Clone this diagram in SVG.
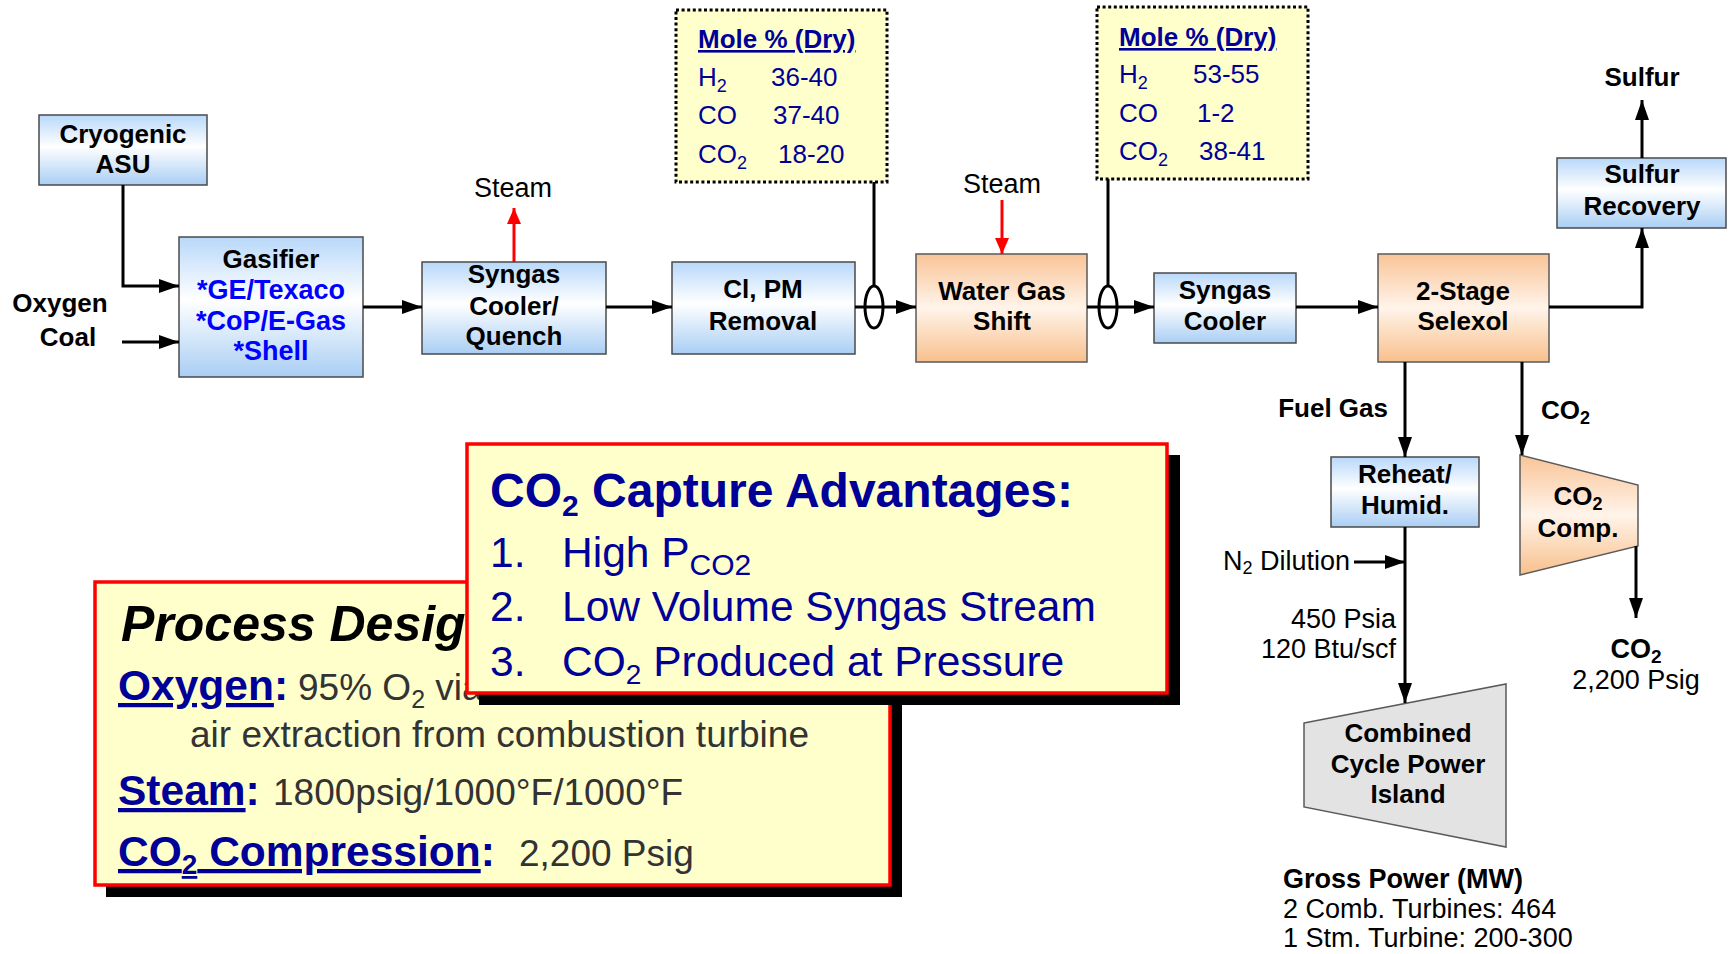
<svg xmlns="http://www.w3.org/2000/svg" width="1732" height="954" viewBox="0 0 1732 954">
  <defs>
    <linearGradient id="gBlue" x1="0" y1="0" x2="0" y2="1">
      <stop offset="0" stop-color="#B8D8FA"/>
      <stop offset="0.45" stop-color="#FFFFFF"/>
      <stop offset="1" stop-color="#A9CEF4"/>
    </linearGradient>
    <linearGradient id="gOrange" x1="0" y1="0" x2="0" y2="1">
      <stop offset="0" stop-color="#F9C497"/>
      <stop offset="0.5" stop-color="#FFF4EA"/>
      <stop offset="1" stop-color="#F8C08C"/>
    </linearGradient>
    <marker id="ah" markerUnits="userSpaceOnUse" markerWidth="22" markerHeight="16" refX="20" refY="7" orient="auto">
      <path d="M0,0 L20,7 L0,14 z" fill="#000"/>
    </marker>
    <marker id="ahRed" markerUnits="userSpaceOnUse" markerWidth="18" markerHeight="16" refX="16" refY="7" orient="auto">
      <path d="M0,0 L16,7 L0,14 z" fill="#FF0000"/>
    </marker>
    <style>
      .box { fill: url(#gBlue); stroke: #4a4a4a; stroke-width: 1.5; }
      .obox { fill: url(#gOrange); stroke: #5a5a5a; stroke-width: 1.5; }
      .lbl { font-family: "Liberation Sans", Arial, sans-serif; font-weight: bold; font-size: 26px; fill: #000; text-anchor: middle; }
      .gas { font-family: "Liberation Sans", Arial, sans-serif; font-weight: bold; font-size: 27px; fill: #0000FF; text-anchor: middle; }
      .txt { font-family: "Liberation Sans", Arial, sans-serif; font-size: 27px; fill: #000; }
      .sm { font-family: "Liberation Sans", Arial, sans-serif; font-size: 27px; fill: #000; }
      .smb { font-family: "Liberation Sans", Arial, sans-serif; font-size: 27px; font-weight: bold; fill: #000; }
      .mole { fill: #FFFFCC; stroke: #000; stroke-width: 3; stroke-dasharray: 3 2.6; }
      .mt { font-family: "Liberation Sans", Arial, sans-serif; font-size: 26px; fill: #000099; }
      .wire { fill: none; stroke: #000; stroke-width: 3; }
      .red { fill: none; stroke: #FF0000; stroke-width: 3; }
      .callout { fill: #FFFFCC; stroke: #FF0000; stroke-width: 3.5; }
      .navy { fill: #000099; }
      .basis { font-family: "Liberation Sans", Arial, sans-serif; font-size: 37px; fill: #333333; }
      .key { font-family: "Liberation Sans", Arial, sans-serif; font-size: 42.5px; font-weight: bold; fill: #000099; }
      .adv { font-family: "Liberation Sans", Arial, sans-serif; font-size: 42.5px; fill: #000099; }
    </style>
  </defs>

  <rect width="1732" height="954" fill="#FFFFFF"/>

  <!-- process units -->
  <g id="asu">
    <rect class="box" x="39" y="115" width="168" height="70"/>
    <text class="lbl" x="123" y="143">Cryogenic</text>
    <text class="lbl" x="123" y="173">ASU</text>
  </g>
  <g id="gasifier">
    <rect class="box" x="179" y="237" width="184" height="140"/>
    <text class="lbl" x="271" y="268">Gasifier</text>
    <text class="gas" x="271" y="299">*GE/Texaco</text>
    <text class="gas" x="271" y="330">*CoP/E-Gas</text>
    <text class="gas" x="271" y="360">*Shell</text>
  </g>
  <g id="feeds">
    <text class="lbl" x="60" y="312">Oxygen</text>
    <text class="lbl" x="68" y="346">Coal</text>
  </g>
  <g id="quench">
    <rect class="box" x="422" y="262" width="184" height="92"/>
    <text class="lbl" x="514" y="283">Syngas</text>
    <text class="lbl" x="514" y="315">Cooler/</text>
    <text class="lbl" x="514" y="345">Quench</text>
  </g>
  <g id="steam-out">
    <text class="txt" x="513" y="197" style="text-anchor:middle">Steam</text>
  </g>
  <g id="clpm">
    <rect class="box" x="672" y="262" width="183" height="92"/>
    <text class="lbl" x="763" y="298">Cl, PM</text>
    <text class="lbl" x="763" y="330">Removal</text>
  </g>
  <g id="comp1">
    <rect class="mole" x="676" y="10" width="211" height="172"/>
    <text class="mt" x="698" y="48" font-weight="bold" text-decoration="underline">Mole % (Dry)</text>
    <text class="mt" x="698" y="86">H<tspan font-size="18" dy="6">2</tspan></text>
    <text class="mt" x="771" y="86">36-40</text>
    <text class="mt" x="698" y="124">CO</text>
    <text class="mt" x="773" y="124">37-40</text>
    <text class="mt" x="698" y="163">CO<tspan font-size="18" dy="6">2</tspan></text>
    <text class="mt" x="778" y="163">18-20</text>
  </g>
  <g id="wgs">
    <rect class="obox" x="916" y="254" width="171" height="108"/>
    <text class="lbl" x="1002" y="300">Water Gas</text>
    <text class="lbl" x="1002" y="330">Shift</text>
  </g>
  <g id="steam-in">
    <text class="txt" x="1002" y="193" style="text-anchor:middle">Steam</text>
  </g>
  <g id="comp2">
    <rect class="mole" x="1097" y="7" width="211" height="172"/>
    <text class="mt" x="1119" y="46" font-weight="bold" text-decoration="underline">Mole % (Dry)</text>
    <text class="mt" x="1119" y="83">H<tspan font-size="18" dy="6">2</tspan></text>
    <text class="mt" x="1193" y="83">53-55</text>
    <text class="mt" x="1119" y="122">CO</text>
    <text class="mt" x="1197" y="122">1-2</text>
    <text class="mt" x="1119" y="160">CO<tspan font-size="18" dy="6">2</tspan></text>
    <text class="mt" x="1199" y="160">38-41</text>
  </g>
  <g id="cooler">
    <rect class="box" x="1154" y="273" width="142" height="70"/>
    <text class="lbl" x="1225" y="299">Syngas</text>
    <text class="lbl" x="1225" y="330">Cooler</text>
  </g>
  <g id="selexol">
    <rect class="obox" x="1378" y="254" width="171" height="108"/>
    <text class="lbl" x="1463" y="300">2-Stage</text>
    <text class="lbl" x="1463" y="330">Selexol</text>
  </g>
  <g id="sulfur-recovery">
    <rect class="box" x="1557" y="158" width="169" height="70"/>
    <text class="lbl" x="1642" y="183">Sulfur</text>
    <text class="lbl" x="1642" y="215">Recovery</text>
  </g>
  <g id="sulfur">
    <text class="lbl" x="1642" y="86">Sulfur</text>
  </g>
  <g id="fuel-gas">
    <text class="lbl" x="1388" y="417" style="text-anchor:end">Fuel Gas</text>
  </g>
  <g id="co2-stream">
    <text class="lbl" x="1541" y="419" style="text-anchor:start">CO<tspan font-size="18" dy="5">2</tspan></text>
  </g>
  <g id="reheat">
    <rect class="box" x="1331" y="457" width="148" height="70"/>
    <text class="lbl" x="1405" y="483">Reheat/</text>
    <text class="lbl" x="1405" y="514">Humid.</text>
  </g>
  <g id="co2-comp">
    <polygon class="obox" points="1520,455 1638,485 1638,546 1520,575"/>
    <text class="lbl" x="1578" y="505">CO<tspan font-size="18" dy="5">2</tspan></text>
    <text class="lbl" x="1578" y="537">Comp.</text>
  </g>
  <g id="co2-product">
    <text class="smb" x="1636" y="658" style="text-anchor:middle">CO<tspan font-size="19" dy="5">2</tspan></text>
    <text class="sm" x="1636" y="689" style="text-anchor:middle">2,200 Psig</text>
  </g>
  <g id="n2">
    <text class="sm" x="1223" y="570" font-size="26">N<tspan font-size="18" dy="4">2</tspan><tspan dy="-4"> Dilution</tspan></text>
  </g>
  <g id="fuel-conditions">
    <text class="sm" x="1396" y="628" style="text-anchor:end">450 Psia</text>
    <text class="sm" x="1396" y="658" style="text-anchor:end">120 Btu/scf</text>
  </g>
  <g id="power-island">
    <polygon points="1304,723 1506,684 1506,847 1304,807" fill="#E3E3E3" stroke="#5a5a5a" stroke-width="1.5"/>
    <text class="lbl" x="1408" y="742">Combined</text>
    <text class="lbl" x="1408" y="773">Cycle Power</text>
    <text class="lbl" x="1408" y="803">Island</text>
  </g>
  <g id="gross-power">
    <text class="smb" x="1283" y="888">Gross Power (MW)</text>
    <text class="sm" x="1283" y="918">2 Comb. Turbines: 464</text>
    <text class="sm" x="1283" y="947">1 Stm. Turbine: 200-300</text>
  </g>

  <!-- flow lines -->
  <g id="connectors">
    <path class="wire" d="M123,185 V286 H179" marker-end="url(#ah)"/>
    <path class="wire" d="M122,342 H179" marker-end="url(#ah)"/>
    <path class="wire" d="M363,307 H422" marker-end="url(#ah)"/>
    <path class="wire" d="M606,307 H672" marker-end="url(#ah)"/>
    <path class="wire" d="M855,307 H916" marker-end="url(#ah)"/>
    <path class="wire" d="M1087,307 H1154" marker-end="url(#ah)"/>
    <path class="wire" d="M1296,307 H1378" marker-end="url(#ah)"/>
    <path class="wire" d="M1549,307 H1642 V228" marker-end="url(#ah)"/>
    <path class="wire" d="M1642,158 V100" marker-end="url(#ah)"/>
    <path class="wire" d="M1405,362 V457" marker-end="url(#ah)"/>
    <path class="wire" d="M1522,362 V455" marker-end="url(#ah)"/>
    <path class="wire" d="M1636,546 V618" marker-end="url(#ah)"/>
    <path class="wire" d="M1405,527 V703" marker-end="url(#ah)"/>
    <path class="wire" d="M1354,562 H1405" marker-end="url(#ah)"/>
    <path class="red" d="M514,262 V208" marker-end="url(#ahRed)"/>
    <path class="red" d="M1002,200 V254" marker-end="url(#ahRed)"/>
    <path class="wire" d="M874,182 V286"/>
    <path class="wire" d="M1108,179 V286"/>
    <ellipse class="wire" cx="874" cy="307" rx="9" ry="21"/>
    <ellipse class="wire" cx="1108" cy="307" rx="9" ry="21"/>
  </g>

  <!-- design basis callout -->
  <g id="design-basis">
    <rect x="106" y="594" width="796" height="303" fill="#000"/>
    <rect class="callout" x="95" y="582" width="795" height="303"/>
    <text x="121" y="641" font-family="Liberation Sans, Arial, sans-serif" font-size="50" font-weight="bold" font-style="italic" fill="#000">Process Design</text>
    <text class="key" x="118" y="700"><tspan text-decoration="underline">Oxygen</tspan>:</text>
    <text class="basis" x="298" y="700">95% O<tspan font-size="25" dy="8">2</tspan><tspan dy="-8"> via</tspan></text>
    <text class="basis" x="190" y="747">air extraction from combustion turbine</text>
    <text class="key" x="118" y="805"><tspan text-decoration="underline">Steam</tspan>:</text>
    <text class="basis" x="273" y="805">1800psig/1000°F/1000°F</text>
    <text class="key" x="118" y="866"><tspan text-decoration="underline">CO<tspan font-size="28" dy="8">2</tspan><tspan dy="-8"> Compression</tspan></tspan>:</text>
    <text class="basis" x="519" y="866">2,200 Psig</text>
  </g>

  <!-- capture advantages callout -->
  <g id="capture-advantages">
    <rect x="479" y="455" width="701" height="250" fill="#000"/>
    <rect class="callout" x="467" y="444" width="700" height="249"/>
    <text x="490" y="507" font-family="Liberation Sans, Arial, sans-serif" font-size="48" font-weight="bold" fill="#000099">CO<tspan font-size="30" dy="9">2</tspan><tspan dy="-9"> Capture Advantages:</tspan></text>
    <text class="adv" x="490" y="567">1.</text>
    <text class="adv" x="562" y="567">High P<tspan font-size="30" dy="8">CO2</tspan></text>
    <text class="adv" x="490" y="621">2.</text>
    <text class="adv" x="562" y="621">Low Volume Syngas Stream</text>
    <text class="adv" x="490" y="676">3.</text>
    <text class="adv" x="562" y="676">CO<tspan font-size="28" dy="8">2</tspan><tspan dy="-8"> Produced at Pressure</tspan></text>
  </g>
</svg>
